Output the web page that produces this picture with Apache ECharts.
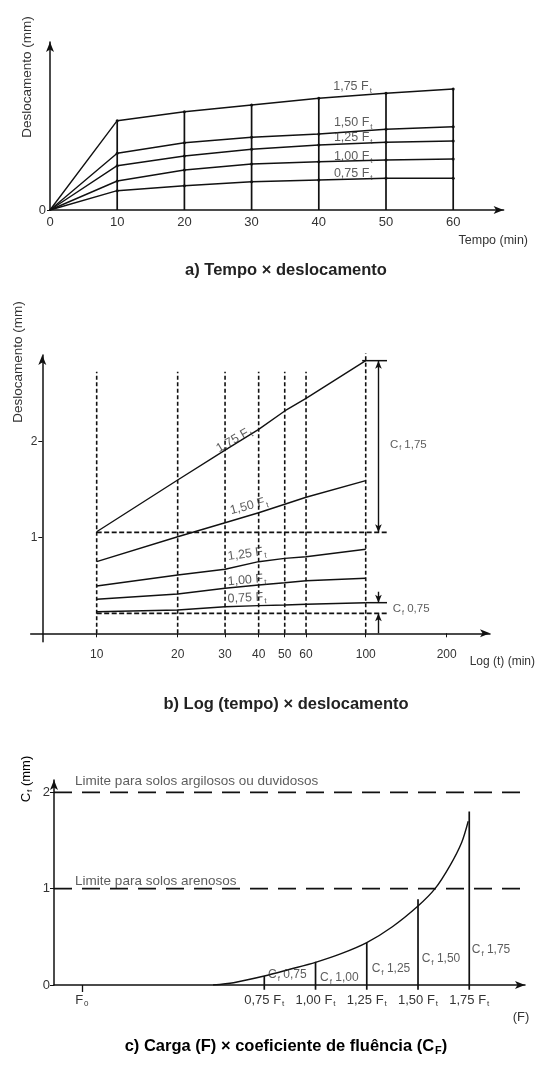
<!DOCTYPE html>
<html>
<head>
<meta charset="utf-8">
<script src="https://cdn.jsdelivr.net/npm/echarts@6/dist/echarts.min.js"></script>
<style>
html,body{margin:0;padding:0;background:#fff}
#main{width:536px;height:1068px}
</style>
</head>
<body>
<div id="main"></div>
<script>
// a) tempo x deslocamento
var tempoA = [0, 10, 20, 30, 40, 50, 60];
var desl075A = [0, 0.193, 0.243, 0.283, 0.300, 0.317, 0.317];
var desl100A = [0, 0.290, 0.400, 0.460, 0.483, 0.500, 0.510];
var desl125A = [0, 0.443, 0.540, 0.607, 0.650, 0.677, 0.690];
var desl150A = [0, 0.567, 0.673, 0.727, 0.760, 0.807, 0.833];
var desl175A = [0, 0.893, 0.983, 1.050, 1.117, 1.167, 1.210];
var ticksA = [0, 10, 20, 30, 40, 50, 60];

// b) log(tempo) x deslocamento
var tempoB = [10, 20, 30, 40, 50, 60, 100];
var desl075B = [0.225, 0.243, 0.277, 0.288, 0.295, 0.302, 0.319];
var desl100B = [0.354, 0.410, 0.469, 0.503, 0.527, 0.548, 0.573];
var desl125B = [0.493, 0.607, 0.667, 0.746, 0.781, 0.798, 0.875];
var desl150B = [0.746, 1.006, 1.152, 1.256, 1.344, 1.417, 1.590];
var desl175B = [1.058, 1.597, 1.909, 2.125, 2.316, 2.448, 2.840];
var ticksB = [10, 20, 30, 40, 50, 60, 100, 200];
var ref175B = 1.052;   // linha de referencia (tracejada) 1,75 Ft
var ref075B = 0.208;   // linha de referencia (tracejada) 0,75 Ft

// c) carga x coeficiente de fluencia
var cargaC = [0.50, 0.60, 0.75, 0.875, 1.00, 1.125, 1.25, 1.375, 1.50, 1.583, 1.656, 1.713, 1.745];
var cfC = [0, 0.024, 0.093, 0.163, 0.235, 0.325, 0.44, 0.605, 0.82, 1.0, 1.24, 1.48, 1.70];
var cargasC = [0.75, 1.00, 1.25, 1.50, 1.75];
var cfMedidoC = [0.093, 0.242, 0.439, 0.889, 1.80];
var limitesC = [2, 1];
var f0C = -0.14;

var ink = '#111';
var txt = '#333';
var fam = '"Liberation Sans", Arial, sans-serif';

function richSet(size) {
	return {
		m: {fontSize: size, fontFamily: fam, color: txt},
		s: {fontSize: Math.round(size * 0.65), fontFamily: fam, color: txt, padding: [Math.round(size * 0.65), 0, 0, 1]}
	};
}
function ft(v) { return '{m|' + v + ' F}{s|t}'; }
function cf(v) { return '{m|C}{s|f}{m| ' + v + '}'; }
function virg(v) { return v.toFixed(2).replace('.', ','); }

function axisLine(onZero) {
	return {show: true, onZero: onZero, symbol: ['none', 'arrow'], symbolSize: [6, 10],
		lineStyle: {color: ink, width: 1.5}};
}
// segmento simples
function seg(g, pts, w, dash) {
	return {
		type: 'line', xAxisIndex: g, yAxisIndex: g, data: pts, symbol: 'none', clip: false, silent: true,
		lineStyle: {color: ink, width: w || 1.4, type: dash || 'solid'}, z: 3
	};
}
function pares(xs, ys) {
	return xs.map(function (x, i) { return [x, ys[i]]; });
}
function textos(g, items, size) {
	return {
		type: 'scatter', xAxisIndex: g, yAxisIndex: g, symbolSize: 0, silent: true, z: 5,
		label: {show: true, position: 'right', distance: 0, color: txt, fontFamily: fam, fontSize: size, rich: richSet(size)},
		data: items
	};
}

var series = [];

// ---- a)
[desl075A, desl100A, desl125A, desl150A, desl175A].forEach(function (arr) {
	series.push({
		type: 'line', xAxisIndex: 0, yAxisIndex: 0, data: pares(tempoA, arr), silent: true,
		symbol: 'circle', symbolSize: function (v) { return v[0] === 0 ? 0 : 3; },
		itemStyle: {color: ink}, lineStyle: {color: ink, width: 1.4}, z: 3
	});
});
tempoA.forEach(function (t, i) {
	if (t > 0) series.push(seg(0, [[t, 0], [t, desl175A[i]]], 1.7));
});
series.push(textos(0, [
	{value: [47.9, 1.23], label: {formatter: ft('1,75'), position: 'left'}},
	{value: [48.0, 0.87], label: {formatter: ft('1,50'), position: 'left'}},
	{value: [48.0, 0.723], label: {formatter: ft('1,25'), position: 'left'}},
	{value: [48.0, 0.533], label: {formatter: ft('1,00'), position: 'left'}},
	{value: [48.0, 0.36], label: {formatter: ft('0,75'), position: 'left'}}
], 12.5));

// ---- b)
[desl075B, desl100B, desl125B, desl150B, desl175B].forEach(function (arr) {
	series.push(seg(1, pares(tempoB, arr), 1.4));
});
tempoB.forEach(function (t) {
	series.push(seg(1, [[t, 0], [t, t === 100 ? 2.917 : 2.725]], 1.6, [4, 2.5]));
});
series.push(seg(1, [[10, ref175B], [119.7, ref175B]], 1.8, [5, 2.5]));
series.push(seg(1, [[10, ref075B], [119.7, ref075B]], 1.8, [5, 2.5]));
series.push(seg(1, [[97, desl175B[6]], [120, desl175B[6]]], 1.5));
series.push(seg(1, [[100, desl075B[6]], [120, desl075B[6]]], 1.5));
series.push({
	type: 'line', xAxisIndex: 1, yAxisIndex: 1, data: [], silent: true,
	markLine: {
		silent: true, animation: false, symbol: ['arrow', 'arrow'], symbolSize: [5, 8],
		label: {show: false}, lineStyle: {color: ink, width: 1.4, type: 'solid'},
		data: [
			[{coord: [111.5, desl175B[6]]}, {coord: [111.5, ref175B]}],
			[{coord: [111.5, 0.433], symbol: 'none'}, {coord: [111.5, desl075B[6]]}],
			[{coord: [111.5, 0], symbol: 'none'}, {coord: [111.5, ref075B]}]
		]
	}
});
series.push(textos(1, [
	{value: [32.4, 2.014], label: {formatter: ft('1,75'), position: 'inside', rotate: 30}},
	{value: [36.8, 1.326], label: {formatter: ft('1,50'), position: 'inside', rotate: 15}},
	{value: [36.2, 0.826], label: {formatter: ft('1,25'), position: 'inside', rotate: 8}},
	{value: [36.2, 0.555], label: {formatter: ft('1,00'), position: 'inside', rotate: 5}},
	{value: [36.2, 0.368], label: {formatter: ft('0,75'), position: 'inside', rotate: 3}}
], 12.5));
series.push(textos(1, [
	{value: [123, 1.961], label: {formatter: cf('1,75')}},
	{value: [126, 0.25], label: {formatter: cf('0,75')}}
], 11.5));

// ---- c)
series.push({
	type: 'line', xAxisIndex: 2, yAxisIndex: 2, data: pares(cargaC, cfC), symbol: 'none',
	smooth: 0.3, silent: true, lineStyle: {color: ink, width: 1.4}, z: 3
});
cargasC.forEach(function (f, i) {
	series.push(seg(2, [[f, -0.05], [f, cfMedidoC[i]]], 1.7));
});
limitesC.forEach(function (l) {
	series.push(seg(2, [[-0.276, l], [2.006, l]], 1.7, [18, 10]));
});
series.push(textos(2, [
	{value: [-0.173, 2.11], label: {formatter: 'Limite para solos argilosos ou duvidosos'}},
	{value: [-0.173, 1.072], label: {formatter: 'Limite para solos arenosos'}}
], 13.5));
series.push(textos(2, cargasC.map(function (f, i) {
	var pos = [[0.768, 0.104], [1.022, 0.073], [1.274, 0.166], [1.518, 0.27], [1.762, 0.363]][i];
	return {value: pos, label: {formatter: cf(virg(f))}};
}), 12));

var option = {
	animation: false,
	backgroundColor: '#fff',
	grid: [
		{left: 50, top: 42, width: 453.6, height: 168},
		{left: 30.7, top: 355, width: 459.3, height: 286.7},
		{left: 54, top: 780, width: 471, height: 205}
	],
	xAxis: [
		{
			gridIndex: 0, type: 'value', min: 0, max: 67.5, splitLine: {show: false},
			axisLine: axisLine(true), axisTick: {show: false},
			axisLabel: {customValues: ticksA, fontSize: 13, color: txt, fontFamily: fam, margin: 6}
		},
		{
			gridIndex: 1, type: 'log', logBase: 10, min: 5.685, max: 289.7, splitLine: {show: false},
			axisLine: axisLine(true), axisTick: {customValues: ticksB, length: 4, lineStyle: {color: ink}},
			axisLabel: {customValues: ticksB, fontSize: 12, color: txt, fontFamily: fam, margin: 7,
				formatter: function (v) { return String(Math.round(v)); }}
		},
		{
			gridIndex: 2, type: 'value', min: -0.276, max: 2.022, splitLine: {show: false},
			axisLine: axisLine(true), axisTick: {customValues: [f0C], length: 7, lineStyle: {color: ink, width: 1.3}},
			axisLabel: {
				customValues: [f0C].concat(cargasC), margin: 7, rich: richSet(13),
				formatter: function (v) {
					if (Math.abs(v - f0C) < 1e-6) return '{m|F}{s|0}';
					return ft(virg(v));
				}
			}
		}
	],
	yAxis: [
		{
			gridIndex: 0, type: 'value', min: 0, max: 1.68, splitLine: {show: false},
			axisLine: axisLine(false), axisTick: {customValues: [0], length: 3, lineStyle: {color: ink}},
			axisLabel: {customValues: [0], fontSize: 13, color: txt, fontFamily: fam, margin: 4}
		},
		{
			gridIndex: 1, type: 'value', min: -0.0875, max: 2.899, offset: -11.6, splitLine: {show: false},
			axisLine: axisLine(false), axisTick: {customValues: [1, 2], length: 4, lineStyle: {color: ink}},
			axisLabel: {customValues: [1, 2], fontSize: 12, color: txt, fontFamily: fam, margin: 5}
		},
		{
			gridIndex: 2, type: 'value', min: 0, max: 2.128, splitLine: {show: false},
			axisLine: axisLine(false), axisTick: {customValues: [0, 1, 2], length: 4, lineStyle: {color: ink}},
			axisLabel: {customValues: [0, 1, 2], fontSize: 13, color: txt, fontFamily: fam, margin: 4}
		}
	],
	graphic: [
		{type: 'text', x: 27, y: 77, rotation: Math.PI / 2,
			style: {text: 'Deslocamento (mm)', textAlign: 'center', textVerticalAlign: 'middle', fontSize: 13.5, fontFamily: fam, fill: txt}},
		{type: 'text', x: 528, y: 241,
			style: {text: 'Tempo (min)', textAlign: 'right', textVerticalAlign: 'middle', fontSize: 12.5, fontFamily: fam, fill: txt}},
		{type: 'text', x: 286, y: 270,
			style: {text: 'a) Tempo × deslocamento', textAlign: 'center', textVerticalAlign: 'middle', fontSize: 16.5, fontWeight: 'bold', fontFamily: fam, fill: '#222'}},
		{type: 'text', x: 18, y: 362, rotation: Math.PI / 2,
			style: {text: 'Deslocamento (mm)', textAlign: 'center', textVerticalAlign: 'middle', fontSize: 13.5, fontFamily: fam, fill: txt}},
		{type: 'text', x: 535, y: 662,
			style: {text: 'Log (t) (min)', textAlign: 'right', textVerticalAlign: 'middle', fontSize: 12, fontFamily: fam, fill: txt}},
		{type: 'text', x: 286, y: 704,
			style: {text: 'b) Log (tempo) × deslocamento', textAlign: 'center', textVerticalAlign: 'middle', fontSize: 16.5, fontWeight: 'bold', fontFamily: fam, fill: '#222'}},
		{type: 'text', x: 26, y: 779, rotation: Math.PI / 2,
			style: {text: '{m|C}{s|f}{m| (mm)}', rich: richSet(13), textAlign: 'center', textVerticalAlign: 'middle'}},
		{type: 'text', x: 521, y: 1017,
			style: {text: '(F)', textAlign: 'center', textVerticalAlign: 'middle', fontSize: 13, fontFamily: fam, fill: txt}},
		{type: 'text', x: 286, y: 1046,
			style: {
				text: '{b|c) Carga (F) × coeficiente de fluência (C}{bs|F}{b|)}',
				textAlign: 'center', textVerticalAlign: 'middle',
				rich: {
					b: {fontSize: 16.5, fontWeight: 'bold', fontFamily: fam, color: '#222'},
					bs: {fontSize: 11, fontWeight: 'bold', fontFamily: fam, color: '#222', padding: [10, 0, 0, 1]}
				}
			}}
	],
	series: series
};
var myChart = echarts.init(document.getElementById('main'));
myChart.setOption(option);
</script>
</body>
</html>
